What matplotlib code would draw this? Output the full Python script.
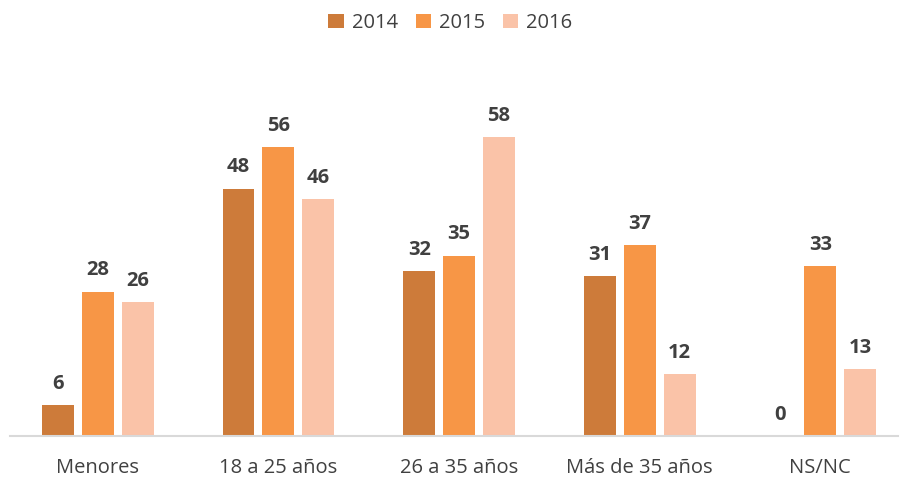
import matplotlib
matplotlib.use("Agg")
import matplotlib.pyplot as plt
import numpy as np

categories = ["Menores", "18 a 25 años", "26 a 35 años", "Más de 35 años", "NS/NC"]
series = ["2014", "2015", "2016"]
v2014 = [6, 48, 32, 31, 0]
v2015 = [28, 56, 35, 37, 33]
v2016 = [26, 46, 58, 12, 13]
colors = ["#CD7B3A", "#F79646", "#FAC3A8"]

plt.rcParams['font.family'] = ['Open Sans', 'DejaVu Sans']
fig = plt.figure(figsize=(9.01, 4.78), dpi=100)
ax_left, ax_right = 10/901, 898/901
ax_bottom = 42/478
ymax = 70
top_px = 436 - ymax*5.155
ax = fig.add_axes([ax_left, ax_bottom, ax_right-ax_left, (436-top_px)/478])

x = np.arange(len(categories))
step = 40/181
width = 32/181
for i, (name, vals) in enumerate(zip(series, [v2014, v2015, v2016])):
    pos = x + (i-1)*step
    bars = ax.bar(pos, vals, width, color=colors[i], label=name)
    for p, v in zip(pos, vals):
        ax.text(p, v + 2.2, str(v), ha='center', va='bottom', fontsize=14.5,
                fontweight='bold', color='#404040')

ax.set_xlim(-0.486, 4.43)
ax.set_ylim(0, ymax)
ax.set_yticks([])
ax.set_xticks(x)
ax.set_xticklabels(categories, fontsize=14.5, color='#404040')
ax.tick_params(axis='x', length=0, pad=16)
for s in ['top', 'right', 'left']:
    ax.spines[s].set_visible(False)
ax.spines['bottom'].set_color('#D9D9D9')
ax.spines['bottom'].set_linewidth(1.5)

fig.legend(loc='center', bbox_to_anchor=(0.5, 1-23/478), ncol=3, frameon=False,
           fontsize=14.5, handlelength=0.75, handleheight=0.75, columnspacing=0.9,
           handletextpad=0.4, labelcolor='#404040')

fig.savefig("out.png", dpi=100)
